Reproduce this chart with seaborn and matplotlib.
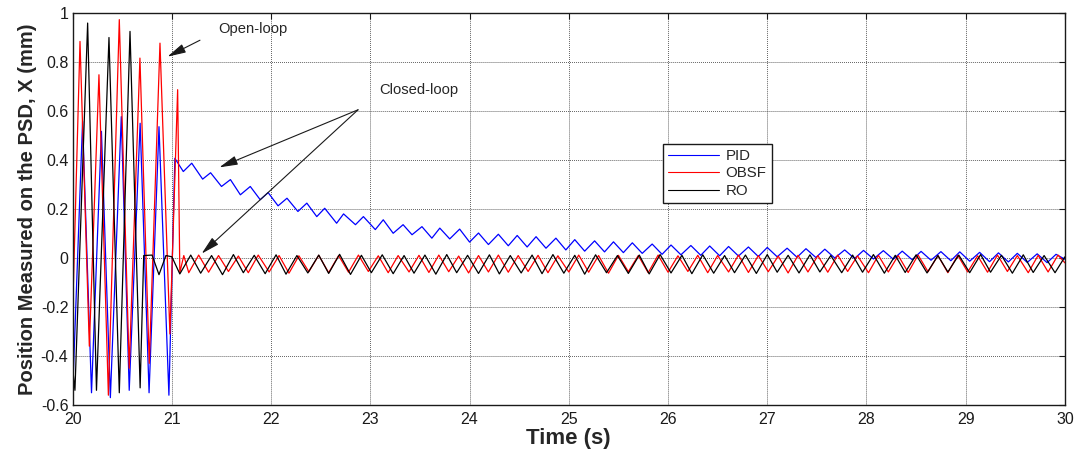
import numpy as np
import pandas as pd
import matplotlib
matplotlib.use("Agg")
import matplotlib.pyplot as plt
import seaborn as sns

# ---------------- data ----------------
x_ticks = [20, 21, 22, 23, 24, 25, 26, 27, 28, 29, 30]
y_ticks = [-0.6, -0.4, -0.2, 0, 0.2, 0.4, 0.6, 0.8, 1]
y_tick_labels = ["-0.6", "-0.4", "-0.2", "0", "0.2", "0.4", "0.6", "0.8", "1"]
series_names = ["PID", "OBSF", "RO"]

# PID: extrema of the trace (open loop, then closed loop)
pid_t = [20.00, 20.10, 20.19, 20.29, 20.38, 20.49, 20.57, 20.68, 20.77, 20.87, 20.97, 21.03,
         21.115, 21.20, 21.31, 21.39, 21.50, 21.59, 21.69, 21.79, 21.89, 21.97, 22.07, 22.16,
         22.27, 22.36, 22.46, 22.54, 22.66, 22.73, 22.85, 22.93, 23.05, 23.13, 23.23, 23.33,
         23.42, 23.52, 23.62, 23.70, 23.80, 23.90,
         24.00, 24.09, 24.19, 24.29, 24.39, 24.48, 24.58, 24.67, 24.77, 24.87, 24.97, 25.06,
         25.16, 25.26, 25.36, 25.45, 25.55, 25.64, 25.74, 25.84, 25.94, 26.03, 26.13, 26.23,
         26.33, 26.42, 26.52, 26.61, 26.71, 26.81, 26.91, 27.00, 27.10, 27.20, 27.30, 27.39,
         27.49, 27.58, 27.68, 27.78, 27.88, 27.97, 28.07, 28.17, 28.27, 28.36, 28.46, 28.55,
         28.65, 28.75, 28.85, 28.94, 29.04, 29.14, 29.24, 29.33, 29.43, 29.52, 29.62, 29.72,
         29.82, 29.91, 30.00]
pid_v = [-0.55, 0.558, -0.55, 0.517, -0.57, 0.577, -0.54, 0.55, -0.55, 0.536, -0.56, 0.407,
         0.353, 0.387, 0.322, 0.348, 0.292, 0.32, 0.258, 0.292, 0.238, 0.267, 0.213, 0.244,
         0.19, 0.224, 0.169, 0.203, 0.142, 0.18, 0.136, 0.169, 0.116, 0.156, 0.101, 0.136,
         0.095, 0.128, 0.081, 0.122, 0.078, 0.118,
         0.065, 0.102, 0.055, 0.097, 0.05, 0.092, 0.045, 0.087, 0.04, 0.081, 0.033, 0.075,
         0.028, 0.07, 0.025, 0.066, 0.022, 0.062, 0.019, 0.057, 0.015, 0.053, 0.013, 0.051,
         0.011, 0.049, 0.009, 0.047, 0.008, 0.045, 0.006, 0.043, 0.005, 0.040, 0.003, 0.038,
         0.002, 0.036, 0.0, 0.033, -0.002, 0.031, -0.004, 0.030, -0.005, 0.028, -0.007, 0.027,
         -0.009, 0.026, -0.011, 0.025, -0.013, 0.023, -0.015, 0.021, -0.016, 0.019, -0.018, 0.017,
         -0.019, 0.015, -0.005]

# OBSF: open-loop extrema
obsf_open_t = [20.00, 20.074, 20.168, 20.265, 20.36, 20.47, 20.57, 20.678, 20.772, 20.88,
               20.98, 21.058, 21.08, 21.12]
obsf_open_v = [-0.22, 0.884, -0.36, 0.748, -0.56, 0.973, -0.45, 0.816, -0.43, 0.877,
               -0.31, 0.687, -0.06, 0.01]
# OBSF: closed-loop troughs and peaks
obsf_trough_t = [21.17, 21.37, 21.57, 21.77, 21.98, 22.18, 22.38, 22.58, 22.78, 22.98,
                 23.18, 23.39, 23.59, 23.79, 23.99, 24.19, 24.39, 24.59, 24.79, 25.00,
                 25.20, 25.40, 25.60, 25.80, 26.00, 26.20, 26.40, 26.61, 26.81, 27.01,
                 27.21, 27.41, 27.61, 27.81, 28.02, 28.22, 28.42, 28.62, 28.82, 29.02,
                 29.22, 29.42, 29.63, 29.83]
obsf_trough_v = [-0.06, -0.058, -0.055, -0.06, -0.057, -0.062, -0.056, -0.06, -0.058, -0.055,
                 -0.06, -0.057, -0.059, -0.056, -0.061, -0.057, -0.058, -0.055, -0.06, -0.057,
                 -0.058, -0.062, -0.056, -0.06, -0.058, -0.055, -0.06, -0.057, -0.059, -0.056,
                 -0.061, -0.057, -0.058, -0.055, -0.06, -0.057, -0.059, -0.056, -0.06, -0.057,
                 -0.058, -0.055, -0.06, -0.057]
obsf_peak_t = [21.27, 21.47, 21.67, 21.87, 22.08, 22.28, 22.48, 22.68, 22.88, 23.08,
               23.28, 23.49, 23.69, 23.89, 24.09, 24.29, 24.49, 24.69, 24.89, 25.10,
               25.30, 25.50, 25.70, 25.90, 26.10, 26.30, 26.50, 26.71, 26.91, 27.11,
               27.31, 27.51, 27.71, 27.91, 28.12, 28.32, 28.52, 28.72, 28.92, 29.12,
               29.32, 29.52, 29.73, 29.93, 30.00]
obsf_peak_v = [0.012, 0.01, 0.008, 0.012, 0.01, 0.009, 0.011, 0.01, 0.012, 0.009,
               0.01, 0.011, 0.012, 0.008, 0.01, 0.012, 0.01, 0.011, 0.009, 0.012,
               0.01, 0.011, 0.01, 0.012, 0.009, 0.011, 0.01, 0.012, 0.01, 0.008,
               0.011, 0.01, 0.012, 0.009, 0.011, 0.01, 0.012, 0.01, 0.011, 0.009,
               0.012, 0.01, 0.011, 0.012, -0.02]

# RO: open-loop extrema
ro_open_t = [20.00, 20.023, 20.151, 20.24, 20.366, 20.47, 20.578, 20.68, 20.716, 20.80,
             20.87, 20.94, 21.00]
ro_open_v = [-0.45, -0.54, 0.959, -0.54, 0.90, -0.55, 0.925, -0.53, 0.01, 0.012,
             -0.068, 0.01, 0.005]
# RO: closed-loop troughs and peaks
ro_trough_t = [21.08, 21.29, 21.51, 21.72, 21.94, 22.15, 22.37, 22.58, 22.80, 23.01,
               23.23, 23.44, 23.66, 23.87, 24.09, 24.30, 24.52, 24.73, 24.95, 25.16,
               25.38, 25.60, 25.81, 26.03, 26.24, 26.46, 26.67, 26.89, 27.10, 27.32,
               27.53, 27.75, 27.96, 28.18, 28.39, 28.61, 28.82, 29.04, 29.25, 29.47,
               29.68, 29.90]
ro_trough_v = [-0.065, -0.062, -0.068, -0.06, -0.064, -0.066, -0.061, -0.063, -0.067, -0.06,
               -0.064, -0.062, -0.066, -0.06, -0.063, -0.065, -0.061, -0.064, -0.062, -0.066,
               -0.06, -0.063, -0.065, -0.061, -0.064, -0.062, -0.06, -0.063, -0.058, -0.061,
               -0.057, -0.06, -0.058, -0.062, -0.059, -0.061, -0.057, -0.06, -0.058, -0.062,
               -0.059, -0.06]
ro_peak_t = [21.19, 21.40, 21.62, 21.83, 22.05, 22.26, 22.48, 22.69, 22.91, 23.12,
             23.34, 23.55, 23.77, 23.98, 24.20, 24.41, 24.63, 24.84, 25.06, 25.27,
             25.49, 25.71, 25.92, 26.14, 26.35, 26.57, 26.78, 27.00, 27.21, 27.43,
             27.64, 27.86, 28.07, 28.29, 28.50, 28.72, 28.93, 29.15, 29.36, 29.58,
             29.79, 30.00]
ro_peak_v = [0.012, 0.01, 0.014, 0.011, 0.013, 0.01, 0.012, 0.015, 0.011, 0.013,
             0.01, 0.012, 0.014, 0.011, 0.013, 0.01, 0.012, 0.014, 0.011, 0.013,
             0.01, 0.012, 0.014, 0.011, 0.013, 0.01, 0.012, 0.014, 0.011, 0.013,
             0.01, 0.012, 0.014, 0.011, 0.013, 0.01, 0.012, 0.014, 0.011, 0.013,
             0.01, 0.005]

# ---------------- build tables ----------------
def trace(name, *parts):
    t, v = [], []
    for pt, pv in parts:
        t += list(pt)
        v += list(pv)
    df = pd.DataFrame({"Time": t, "X": v, "Series": name})
    return df.sort_values("Time", kind="stable").reset_index(drop=True)

df_pid = trace("PID", (pid_t, pid_v))
df_obsf = trace("OBSF", (obsf_open_t, obsf_open_v), (obsf_trough_t, obsf_trough_v),
                (obsf_peak_t, obsf_peak_v))
df_ro = trace("RO", (ro_open_t, ro_open_v), (ro_trough_t, ro_trough_v),
              (ro_peak_t, ro_peak_v))

# ---------------- style ----------------
sns.set_theme(style="white")
plt.rcParams['font.family'] = ['Liberation Sans', 'DejaVu Sans']

fig = plt.figure(figsize=(10.78, 4.49), dpi=100)
ax = fig.add_axes([0.0674, 0.098, 0.9205, 0.873])

colors = {"PID": "#0000FF", "OBSF": "#FF0000", "RO": "#000000"}
for df in (df_pid, df_obsf, df_ro):
    name = df["Series"].iloc[0]
    sns.lineplot(data=df, x="Time", y="X", sort=False, estimator=None,
                 color=colors[name], linewidth=0.9, ax=ax, label=name)

ax.set_xlim(20, 30)
ax.set_ylim(-0.6, 1)
ax.set_xticks(x_ticks)
ax.set_xticklabels([str(v) for v in x_ticks])
ax.set_yticks(y_ticks)
ax.set_yticklabels(y_tick_labels)
ax.tick_params(direction="in", top=True, right=True, length=4, width=0.8,
               labelsize=11.5, colors="k")
ax.tick_params(axis="x", pad=5)
ax.tick_params(axis="y", pad=3)
ax.grid(True, color="0.3", linestyle=(0, (1, 1.2)), linewidth=0.65)
for sp in ax.spines.values():
    sp.set_color("k")
    sp.set_linewidth(1.0)

ax.set_xlabel("Time (s)", fontsize=16, fontweight="bold", labelpad=1)
ax.set_ylabel("Position Measured on the PSD, X (mm)", fontsize=14.5, fontweight="bold",
              labelpad=2.5)

leg = ax.legend(loc="upper left", bbox_to_anchor=(0.5946, 0.666), borderaxespad=0,
                frameon=True, fancybox=False, edgecolor="k", framealpha=1,
                handlelength=3.4, handletextpad=0.45, fontsize=10.8,
                borderpad=0.35, labelspacing=0.22)
leg.get_frame().set_linewidth(1.0)
for ln in leg.get_lines():
    ln.set_linewidth(0.8)

arrow = dict(arrowstyle="-|>,head_length=0.8,head_width=0.2", color="k", lw=0.8,
             shrinkA=0, shrinkB=0, mutation_scale=14)
ax.text(21.466, 0.936, "Open-loop", fontsize=10.6, va="center", ha="left")
ax.annotate("", xy=(20.956, 0.822), xytext=(21.283, 0.889), arrowprops=arrow)
ax.text(23.09, 0.684, "Closed-loop", fontsize=10.6, va="center", ha="left")
ax.annotate("", xy=(21.478, 0.370), xytext=(22.876, 0.605), arrowprops=arrow)
ax.annotate("", xy=(21.30, 0.018), xytext=(22.876, 0.605), arrowprops=arrow)

fig.savefig("out.png", dpi=100)
